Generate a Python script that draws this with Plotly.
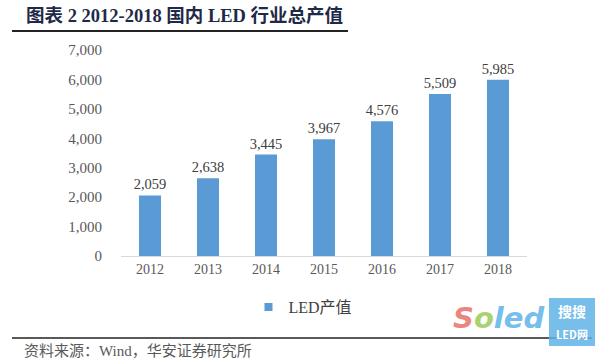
import plotly.graph_objects as go

years = ["2012", "2013", "2014", "2015", "2016", "2017", "2018"]
values = [2059, 2638, 3445, 3967, 4576, 5509, 5985]
y_ticks = [0, 1000, 2000, 3000, 4000, 5000, 6000, 7000]
series_name = "LED产值"
title_text = "图表 2 2012-2018 国内 LED 行业总产值"
source_text = "资料来源：Wind，华安证券研究所"

SERIF = "Liberation Serif, Noto Sans CJK SC, serif"
BAR = "#5B9BD5"

W = 406.0
H = 206.0
def px(x):
    return (x - 121) / W
def py(y):
    return (256 - y) / H

fig = go.Figure()
fig.add_trace(go.Bar(
    x=years, y=values, name=series_name, showlegend=False,
    marker=dict(color=BAR, line=dict(width=0)),
    width=0.38,
    text=[f"{v:,}" for v in values], textposition="outside",
    constraintext="none",
    textfont=dict(family=SERIF, size=14.5, color="#404040"),
    cliponaxis=False,
))
fig.add_trace(go.Scatter(
    x=[None], y=[None], mode="markers", name=series_name,
    marker=dict(symbol="square", size=8, color=BAR),
))

fig.update_layout(
    width=604, height=363,
    margin=dict(l=121, r=77, t=50, b=107, autoexpand=False),
    paper_bgcolor="white", plot_bgcolor="white",
    showlegend=True,
    legend=dict(orientation="h", x=px(303), xref="paper", y=py(307), yanchor="middle", xanchor="center",
                font=dict(family=SERIF, size=16, color="#404040"),
                itemwidth=30),
    xaxis=dict(showgrid=False, showline=True, linecolor="#D9D9D9", linewidth=1,
               ticks="", tickfont=dict(family=SERIF, size=14, color="#595959")),
    yaxis=dict(range=[0, 7000], tickvals=y_ticks, tickformat=",", showgrid=False,
               showline=False, zeroline=False, ticks="",
               ticklabelstandoff=18,
               tickfont=dict(family=SERIF, size=15, color="#595959")),
    shapes=[
        dict(type="line", xref="paper", yref="paper", x0=px(12), x1=px(348),
             y0=py(31), y1=py(31), line=dict(color="#222222", width=2)),
        dict(type="line", xref="paper", yref="paper", x0=px(12), x1=px(592),
             y0=py(338), y1=py(338), line=dict(color="#222222", width=1.5)),
        dict(type="rect", xref="paper", yref="paper", x0=px(549), x1=px(595),
             y0=py(298), y1=py(346), fillcolor="#5FB3E8", line=dict(width=0), opacity=0.85),
    ],
    annotations=[
        dict(text="<b>" + title_text + "</b>", xref="paper", yref="paper",
             x=px(24), y=py(15), xanchor="left", yanchor="middle", showarrow=False,
             font=dict(family=SERIF, size=18.5, color="#1F2A48")),
        dict(text=source_text, xref="paper", yref="paper",
             x=px(22), y=py(351), xanchor="left", yanchor="middle", showarrow=False,
             font=dict(family=SERIF, size=15, color="#595959")),
        dict(text="<b><i><span style='color:#E8706A'>S</span><span style='color:#9CCB5A'>o</span><span style='color:#5FB3E8'>led</span></i></b>",
             xref="paper", yref="paper", x=px(498), y=py(318),
             xanchor="center", yanchor="middle", showarrow=False,
             font=dict(family="DejaVu Sans", size=29), opacity=0.85),
        dict(text="<b>搜搜</b>", xref="paper", yref="paper",
             x=px(572), y=py(311), xanchor="center", yanchor="middle",
             showarrow=False, font=dict(family="Noto Sans CJK SC", size=14, color="white")),
        dict(text="<b>LED网</b>", xref="paper", yref="paper",
             x=px(572), y=py(334), xanchor="center", yanchor="middle",
             showarrow=False, font=dict(family="Noto Sans CJK SC", size=11, color="white")),
    ],
)

fig.write_html("out.html", config={"displayModeBar": False},
               post_script="document.body.style.margin='0';document.body.style.padding='0';")
